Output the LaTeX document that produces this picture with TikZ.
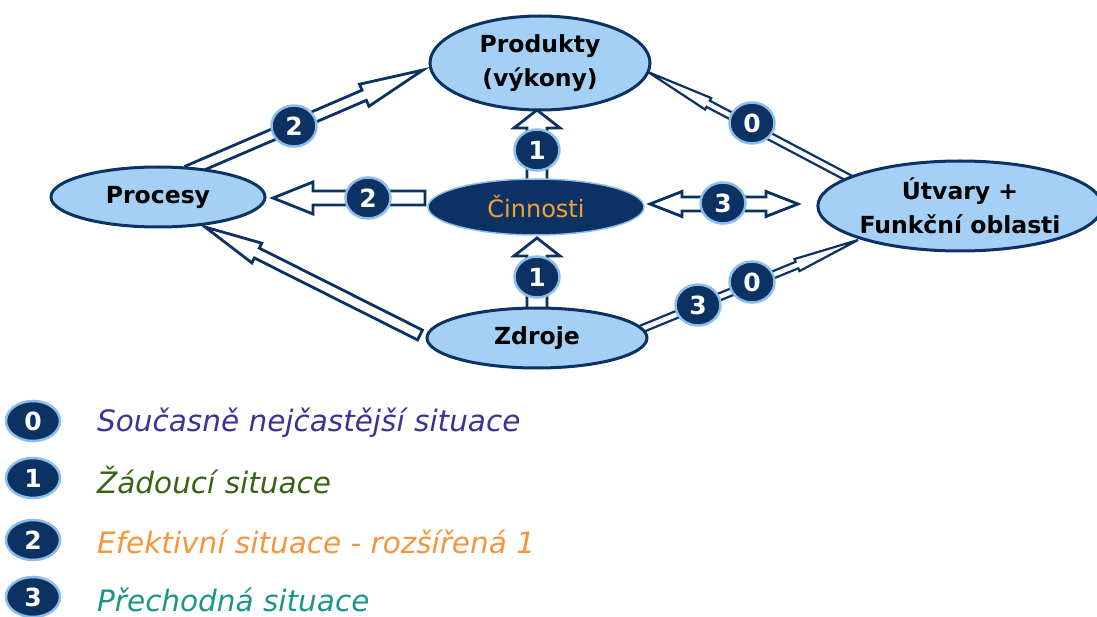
\documentclass[tikz,border=0pt]{standalone}
\usepackage{fontspec}
\setmainfont{DejaVu Sans}
\usetikzlibrary{calc,shapes.geometric,backgrounds}

\definecolor{navy}{RGB}{12,50,100}
\definecolor{skyfill}{RGB}{165,208,245}
\definecolor{halo}{RGB}{140,190,235}
\definecolor{cinorange}{RGB}{245,160,50}
\definecolor{legzero}{RGB}{60,50,150}
\definecolor{legone}{RGB}{55,100,20}
\definecolor{legtwo}{RGB}{245,150,60}
\definecolor{legthree}{RGB}{25,150,135}

\tikzset{
  sit/.style={ellipse, draw=navy, line width=3pt, fill=skyfill, inner sep=0pt,
    align=center, font=\bfseries\fontsize{23.5}{34}\selectfont},
  badge/.style={ellipse, fill=navy, draw=halo, line width=2.5pt, minimum width=45pt,
    minimum height=41pt, inner sep=0pt, text=white, font=\bfseries\fontsize{25}{25}\selectfont},
  legbadge/.style={badge, minimum width=54pt, minimum height=40pt},
  legtext/.style={anchor=west, inner sep=0pt, font=\itshape\fontsize{29.5}{30}\selectfont},
  arrowline/.style={draw=navy, fill=white, line width=2.8pt, line join=miter},
  thinarrow/.style={arrowline, line width=2.2pt},
}

% hollow block arrow: [style]{tail}{tip}{shaft half width}{head half width}{head length}
\newcommand\blockarrow[6][]{%
  \coordinate (ba-base) at ($(#3)!#6!(#2)$);
  \draw[arrowline,#1] ($(#2)!#4!90:(#3)$) -- ($(ba-base)!#4!90:(#3)$)
    -- ($(ba-base)!#5!90:(#3)$) -- (#3) -- ($(ba-base)!#5!-90:(#3)$)
    -- ($(ba-base)!#4!-90:(#3)$) -- ($(#2)!#4!-90:(#3)$) -- cycle;
}

\begin{document}
\begin{tikzpicture}[x=1pt,y=-1pt]
  \useasboundingbox (0,0) rectangle (1097,617);

  % the five areas
  \node[sit, minimum width=220pt, minimum height=94pt] (prod) at (540,63) {Produkty\\(výkony)};
  \node[sit, minimum width=214pt, minimum height=60pt] (proc) at (158,197) {Procesy};
  \node[sit, fill=navy, draw=halo, line width=1.5pt, minimum width=216pt, minimum height=56pt,
    text=cinorange, font=\fontsize{24}{30}\selectfont] (cin) at (536,207) {Činnosti};
  \node[sit, minimum width=276pt, minimum height=90pt] (utv) at (960,206) {Útvary +\\Funkční oblasti};
  \node[sit, minimum width=220pt, minimum height=60pt] (zdr) at (537,338) {Zdroje};

  % arrows between them
  \begin{scope}[on background layer]
    \blockarrow{$(proc)+(30,-26)$}{$(prod)+(-117,7)$}{5.5pt}{12pt}{64pt}
    \blockarrow{$(cin)+(-111,-9)$}{$(proc)+(115,1)$}{7pt}{16pt}{40pt}
    \blockarrow{$(cin)+(1,-25)$}{$(prod)+(-3,47)$}{10pt}{23pt}{18pt}
    \blockarrow{$(zdr)+(0,-27)$}{$(cin)+(1,31)$}{10pt}{23pt}{18pt}
    \blockarrow{$(cin)+(187,-3)$}{$(cin)+(114,-3)$}{7pt}{12.5pt}{32pt}
    \blockarrow{$(cin)+(187,-3)$}{$(utv)+(-162,-2)$}{7pt}{12.5pt}{32pt}
    \blockarrow{$(zdr)+(-117,-3)$}{$(proc)+(47,30)$}{5.5pt}{11pt}{58pt}
    \blockarrow[thinarrow]{$(utv)+(-100,-22)$}{$(prod)+(108,9)$}{3.5pt}{6.5pt}{68pt}
    \blockarrow[thinarrow]{$(zdr)+(97,-6)$}{$(utv)+(-102,34)$}{3.5pt}{6.5pt}{66pt}
  \end{scope}

  % situation numbers on the arrows
  \node[badge] (b2a) at (294,126) {2};
  \node[badge] (b1a) at (537,150) {1};
  \node[badge] (b2b) at (368,198) {2};
  \node[badge] (b1b) at (537,277) {1};
  \node[badge] (b3a) at (723,203) {3};
  \node[badge] (b0a) at (752,123) {0};
  \node[badge] (b3b) at (698,305) {3};
  \node[badge] (b0b) at (752,282) {0};

  % legend
  \node[legbadge] (l0) at (33,421) {0};
  \node[legtext, text=legzero] (t0) at (97,423) {Současně nejčastější situace};
  \node[legbadge] (l1) at (33,478) {1};
  \node[legtext, text=legone] (t1) at (97,480) {Žádoucí situace};
  \node[legbadge] (l2) at (33,540) {2};
  \node[legtext, text=legtwo] (t2) at (97,542) {Efektivní situace - rozšířená 1};
  \node[legbadge] (l3) at (33,597) {3};
  \node[legtext, text=legthree] (t3) at (97,600) {Přechodná situace};
\end{tikzpicture}
\end{document}
